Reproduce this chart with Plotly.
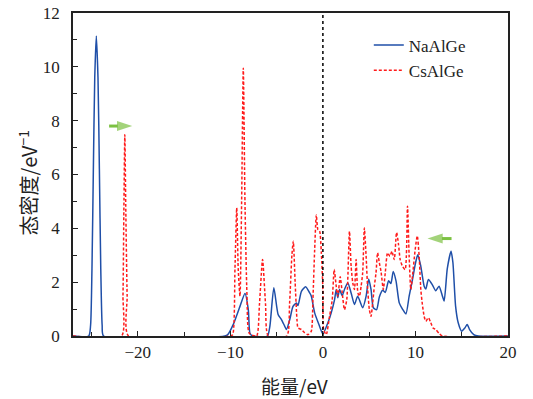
import plotly.graph_objects as go

# Energy (eV) and DOS (states/eV)
na_energy = [-27, -25.3, -25.1, -24.95, -24.8, -24.65, -24.48, -24.3, -24.15, -24.0, -23.85, -23.7,
             -10.6, -10.28, -9.68, -8.96, -8.42, -8.06, -7.88, -7.6, -6.0, -5.73, -5.3, -4.84, -4.48,
             -4.12, -3.94, -3.58, -3.23, -2.86, -2.69, -2.32, -1.86, -1.43, -1.25, -0.89, -0.43, 0.0,
             0.54, 0.9, 1.26, 1.44, 1.61, 1.8, 2.09, 2.33, 2.69, 3.05, 3.41, 3.76, 4.3, 4.67, 4.95,
             5.2, 5.45, 5.8, 6.1, 6.45, 6.74, 7.1, 7.35, 7.6, 7.9, 8.25, 8.6, 8.97, 9.32, 9.68, 10.0,
             10.25, 10.58, 10.94, 11.12, 11.4, 11.83, 12.19, 12.55, 12.9, 13.1, 13.44, 13.85, 14.05,
             14.34, 14.62, 14.99, 15.34, 15.59, 15.85, 16.3, 16.8, 20]
na_dos = [0, 0, 0.4, 2.5, 6.2, 9.6, 11.15, 9.6, 6.2, 2.5, 0.4, 0,
          0, 0.05, 0.43, 1.1, 1.58, 0.98, 0.1, 0, 0, 0.36, 1.79, 0.8, 0.61,
          0.36, 0.24, 0.61, 1.1, 1.23, 1.13, 1.66, 1.83, 1.6, 1.48, 0.86, 0.43, 0.08,
          0.49, 0.86, 1.35, 1.73, 1.42, 1.73, 1.5, 1.73, 1.97, 1.6, 1.17, 1.48, 1.05, 1.48, 2.12,
          1.73, 1.05, 0.98, 1.45, 1.7, 1.62, 2.05, 1.95, 2.4, 2.05, 1.23, 1.0, 0.82, 1.48, 2.1, 2.7,
          3.02, 2.59, 1.85, 1.75, 2.1, 1.9, 1.68, 1.85, 1.5, 1.3, 2.5, 3.15, 2.72,
          1.1, 0.49, 0.18, 0.3, 0.43, 0.24, 0.05, 0, 0]

cs_energy = [-27, -21.75, -21.6, -21.5, -21.4, -21.3, -21.15, -21.0, -10.0, -9.74, -9.5, -9.31,
             -9.15, -8.96, -8.78, -8.6, -8.42, -8.2, -7.95, -7.16, -6.85, -6.52, -6.2, -5.9, -3.9,
             -3.6, -3.35, -3.2, -3.0, -2.8, -2.69, -2.32, -1.97, -1.61, -1.25, -1.08, -0.89, -0.71,
             -0.54, -0.35, -0.17, 0.0, 0.08, 0.36, 0.72, 1.01, 1.22, 1.44, 1.61, 1.87, 2.09, 2.33,
             2.58, 2.87, 3.05, 3.23, 3.41, 3.59, 3.78, 3.95, 4.13, 4.3, 4.48, 4.67, 4.84, 5.02, 5.2,
             5.38, 5.56, 5.74, 5.91, 6.1, 6.28, 6.53, 6.74, 6.99, 7.25, 7.46, 7.71, 7.96, 8.17, 8.35,
             8.6, 8.89, 9.14, 9.32, 9.5, 9.68, 9.97, 10.2, 10.4, 10.58, 10.75, 10.94, 11.12, 11.4,
             11.66, 11.9, 12.19, 12.55, 12.9, 20]
cs_dos = [0, 0, 1.5, 4.8, 7.48, 4.8, 1.5, 0, 0, 0.05, 2.5, 4.76,
          2.5, 1.48, 5.0, 9.95, 5.0, 1.5, 0.1, 0, 1.2, 2.84, 1.2, 0, 0,
          1.2, 3.0, 3.52, 2.0, 0.6, 0.3, 0.24, 0.12, 0.05, 0.18, 1.35, 3.2, 4.5,
          3.95, 3.89, 3.1, 1.73, 0.24, 0.05, 0.73, 1.35, 2.47, 1.85, 1.48, 2.2, 1.6, 0.98,
          1.35, 3.89, 2.59, 1.97, 1.73, 2.84, 1.6, 1.48, 1.85, 2.35, 4.01, 2.96, 1.73, 0.98, 0.73,
          1.23, 1.85, 2.35, 3.09, 2.72, 2.4, 1.73, 2.35, 3.09, 2.96, 3.15, 2.84, 3.85, 3.4, 2.84,
          2.59, 2.47, 4.82, 2.96, 1.73, 2.22, 3.21, 3.72, 2.96, 1.73, 1.17, 0.73, 0.55, 0.68,
          0.49, 0.3, 0.24, 0.1, 0, 0]

names = ["NaAlGe", "CsAlGe"]
x_title = "能量/eV"
y_title = "态密度/eV<sup>−1</sup>"

# green arrow markers (tail -> head), in data coordinates
arrow1_x = [-23.1, -20.6]
arrow1_y = [7.8, 7.8]
arrow2_x = [13.9, 11.3]
arrow2_y = [3.62, 3.62]

serif = "Liberation Serif"
cjk = "Noto Sans CJK SC"

fig = go.Figure()
fig.add_trace(go.Scatter(x=na_energy, y=na_dos, mode="lines", name=names[0],
                         line=dict(color="#1f4fa8", width=1.5, shape="spline", smoothing=0.6)))
fig.add_trace(go.Scatter(x=cs_energy, y=cs_dos, mode="lines", name=names[1],
                         line=dict(color="#ff1a1a", width=1.5, dash="3px,2px", shape="spline", smoothing=0.6)))

for ax_, ay_ in [(arrow1_x, arrow1_y), (arrow2_x, arrow2_y)]:
    fig.add_trace(go.Scatter(x=ax_, y=ay_, mode="lines+markers", showlegend=False, hoverinfo="skip",
                             line=dict(color="#7cc142", width=3),
                             marker=dict(symbol=["circle", "arrow"], size=[0, 16], angleref="previous",
                                         color="#7cc142", line=dict(width=0))))

# Fermi level
fig.add_shape(type="line", x0=0, x1=0, y0=0, y1=12, xref="x", yref="y",
              line=dict(color="black", width=1.5, dash="dot"))

# axis titles
fig.add_annotation(text=x_title, xref="paper", yref="paper", x=0.5, y=0, xshift=4, yshift=-49,
                   yanchor="middle", xanchor="center", showarrow=False,
                   font=dict(family=cjk, size=19, color="#222"))
fig.add_annotation(text=y_title, xref="paper", yref="paper", x=0, y=0.5, xshift=-46, yshift=-8,
                   yanchor="middle", xanchor="center", textangle=-90, showarrow=False,
                   font=dict(family=cjk, size=20, color="#222"))

fig.update_layout(
    width=533, height=399,
    margin=dict(l=73, r=25, t=13, b=63, autoexpand=False),
    plot_bgcolor="white", paper_bgcolor="white",
    font=dict(family=serif, size=17, color="#222"),
    showlegend=True,
    legend=dict(x=0.68, y=0.955, xanchor="left", yanchor="top", bgcolor="rgba(0,0,0,0)",
                font=dict(family=serif, size=17), tracegroupgap=0),
)
fig.update_xaxes(range=[-27, 20], tickmode="linear", tick0=0, dtick=10, ticks="inside", ticklen=5,
                 tickcolor="#222", showline=True, linecolor="#222", linewidth=1.5, mirror=True,
                 showgrid=False, zeroline=False, automargin=False,
                 minor=dict(dtick=5, tick0=0, ticks="inside", ticklen=4, tickcolor="#222"))
fig.update_yaxes(range=[0, 12], tickmode="linear", tick0=0, dtick=2, ticks="inside", ticklen=5,
                 tickcolor="#222", showline=True, linecolor="#222", linewidth=1.5, mirror=True,
                 showgrid=False, zeroline=False, automargin=False, ticklabelstandoff=8,
                 minor=dict(dtick=1, ticks="inside", ticklen=4, tickcolor="#222"))

fig.write_html("out.html")
